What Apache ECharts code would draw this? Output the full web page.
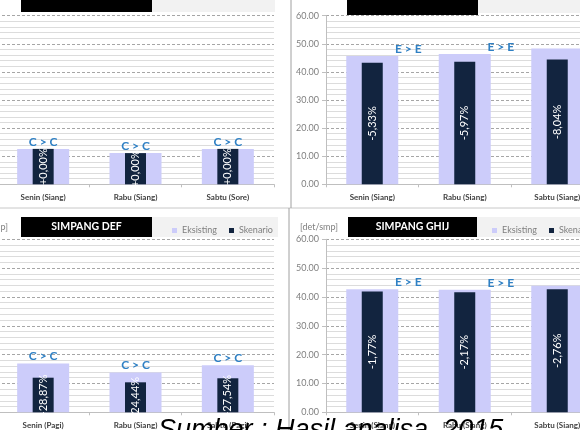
<!DOCTYPE html>
<html>
<head>
<meta charset="utf-8">
<script src="https://cdn.jsdelivr.net/npm/echarts@6/dist/echarts.min.js"></script>
<style>
html, body { margin: 0; padding: 0; background: #fff; }
#chart { width: 580px; height: 430px; }
</style>
</head>
<body>
<div id="chart"></div>
<script>
// tundaan rata-rata [det/smp], eksisting vs skenario
var kat1 = ['Senin (Siang)', 'Rabu (Siang)', 'Sabtu (Sore)'];
var eks1 = [12.6, 11.1, 12.6];
var sken1 = [12.6, 11.1, 12.6];
var pct1 = ['+0,00%', '+0,00%', '+0,00%'];
var los1 = 'C > C';

var kat2 = ['Senin (Siang)', 'Rabu (Siang)', 'Sabtu (Siang)'];
var eks2 = [45.7, 46.4, 48.3];
var sken2 = [43.3, 43.6, 44.4];
var pct2 = ['-5,33%', '-5,97%', '-8,04%'];
var los2 = 'E > E';

var kat3 = ['Senin (Pagi)', 'Rabu (Siang)', 'Sabtu (Pagi)'];
var eks3 = [16.9, 13.8, 16.3];
var sken3 = [12.0, 10.4, 11.8];
var pct3 = ['-28,87%', '-24,44%', '-27,54%'];
var los3 = 'C > C';

var kat4 = ['Senin (Siang)', 'Rabu (Siang)', 'Sabtu (Siang)'];
var eks4 = [42.7, 42.5, 43.9];
var sken4 = [41.9, 41.6, 42.7];
var pct4 = ['-1,77%', '-2,17%', '-2,76%'];
var los4 = 'E > E';

var yTicks = [0, 10, 20, 30, 40, 50, 60];

var FONT = 'Lato, "Open Sans", sans-serif';
var C_EKS = '#ccccfa';
var C_SKEN = '#12243f';
var C_LOS = '#2f80c4';

var panels = [
    { kat: kat1, eks: eks1, sken: sken1, pct: pct1, los: los1, losOff: [0, 0],
      grid: { left: -3, top: 15.7, width: 277, height: 168.6 } },
    { kat: kat2, eks: eks2, sken: sken2, pct: pct2, los: los2, losOff: [36, 0],
      grid: { left: 326, top: 15.7, width: 277.5, height: 168.6 } },
    { kat: kat3, eks: eks3, sken: sken3, pct: pct3, los: los3, losOff: [0, 0],
      grid: { left: -3, top: 239.3, width: 277, height: 173 } },
    { kat: kat4, eks: eks4, sken: sken4, pct: pct4, los: los4, losOff: [36, 0],
      grid: { left: 326, top: 239.3, width: 277.5, height: 173 } }
];

var grids = [], xAxes = [], yAxes = [], series = [];

panels.forEach(function (p, i) {
    grids.push(Object.assign({ outerBoundsMode: 'none', containLabel: false }, p.grid));
    xAxes.push({
        type: 'category', gridIndex: i, data: p.kat,
        axisLine: { lineStyle: { color: '#bfbfbf' } },
        axisTick: { show: true, length: 3, lineStyle: { color: '#bfbfbf' } },
        axisLabel: { fontFamily: FONT, fontSize: 8, fontWeight: 'bold', color: '#404040', margin: 9 }
    });
    // sumbu bayangan supaya batang skenario tetap di tengah
    xAxes.push({ type: 'category', gridIndex: i, data: p.kat, show: false });
    yAxes.push({
        type: 'value', gridIndex: i, min: yTicks[0], max: yTicks[yTicks.length - 1],
        interval: yTicks[1] - yTicks[0],
        axisLine: { show: true, lineStyle: { color: '#bfbfbf' } },
        axisTick: { show: true, length: 4, lineStyle: { color: '#bfbfbf' } },
        axisLabel: { fontFamily: FONT, fontSize: 9, color: '#7f7f7f', margin: 7,
            formatter: function (v) { return v.toFixed(2); } },
        splitLine: { lineStyle: { color: '#a6a6a6', type: [3, 2], width: 1 } },
        minorTick: { show: false, splitNumber: 5 },
        minorSplitLine: { show: true, lineStyle: { color: '#dcdcdc', width: 1 } }
    });
    series.push({
        name: 'Eksisting', type: 'bar', xAxisIndex: 2 * i, yAxisIndex: i,
        data: p.eks, barWidth: 52,
        itemStyle: { color: C_EKS },
        label: { show: true, position: 'top', distance: 1, offset: p.losOff,
            formatter: function () { return p.los; },
            fontFamily: FONT, fontSize: 12, fontWeight: 'bold', color: C_LOS }
    });
    series.push({
        name: 'Skenario', type: 'bar', xAxisIndex: 2 * i + 1, yAxisIndex: i,
        data: p.sken, barWidth: 21,
        itemStyle: { color: C_SKEN },
        label: { show: true, position: 'inside', rotate: 90,
            formatter: function (d) { return p.pct[d.dataIndex]; },
            fontFamily: FONT, fontSize: 11, color: '#ffffff' }
    });
});

function box(x, y, w, h, fill) {
    return { type: 'rect', shape: { x: x, y: y, width: w, height: h }, style: { fill: fill }, silent: true };
}
function judul(x, y, w, h, teks) {
    return { type: 'group', z: 50, children: [
        box(x, y, w, h, '#000'),
        { type: 'text', x: x + w / 2, y: y + h / 2,
          style: { text: teks, fill: '#fff', font: 'bold 10.5px ' + FONT, align: 'center', verticalAlign: 'middle' } }
    ] };
}

var graphics = [
    box(152, 0, 123, 12, '#f2f2f2'),
    box(478, 0, 102, 13, '#f2f2f2'),
    box(152, 217, 126, 20, '#f2f2f2'),
    box(477, 217, 103, 20, '#f2f2f2'),
    judul(21, -8, 131, 20, ''),
    judul(347, -5, 131, 20, ''),
    judul(21, 217, 131, 20, 'SIMPANG DEF'),
    judul(348, 217, 129, 20, 'SIMPANG GHIJ'),
    { type: 'line', shape: { x1: 0, y1: 208, x2: 580, y2: 208 }, style: { stroke: '#c8c8c8', lineWidth: 1 } },
    { type: 'line', shape: { x1: 291, y1: 0, x2: 291, y2: 208 }, style: { stroke: '#a0a0a0', lineWidth: 1 } },
    { type: 'line', shape: { x1: 289, y1: 208, x2: 289, y2: 430 }, style: { stroke: '#a0a0a0', lineWidth: 1 } },
    { type: 'text', x: 8, y: 227, style: { text: '[det/smp]', fill: '#7f7f7f', font: '9px ' + FONT, align: 'right', verticalAlign: 'middle' } },
    { type: 'text', x: 300, y: 227, style: { text: '[det/smp]', fill: '#7f7f7f', font: '9px ' + FONT, align: 'left', verticalAlign: 'middle' } },
    { type: 'text', x: 158, y: 417, z: 100, style: { text: 'Sumber : Hasil analisa, 2015', fill: '#000', font: 'italic 27px "Liberation Sans", sans-serif', align: 'left', verticalAlign: 'top' } }
];

function legenda(nama, left) {
    return {
        icon: 'rect', itemWidth: 5, itemHeight: 5, top: 221, left: left,
        data: [nama],
        textStyle: { fontFamily: FONT, fontSize: 9, color: '#7f7f7f' }
    };
}

var chart = echarts.init(document.getElementById('chart'));
chart.setOption({
    animation: false,
    backgroundColor: '#ffffff',
    grid: grids,
    xAxis: xAxes,
    yAxis: yAxes,
    series: series,
    legend: [
        legenda('Eksisting', 167), legenda('Skenario', 224),
        legenda('Eksisting', 487), legenda('Skenario', 544)
    ],
    graphic: graphics
});
</script>
</body>
</html>
